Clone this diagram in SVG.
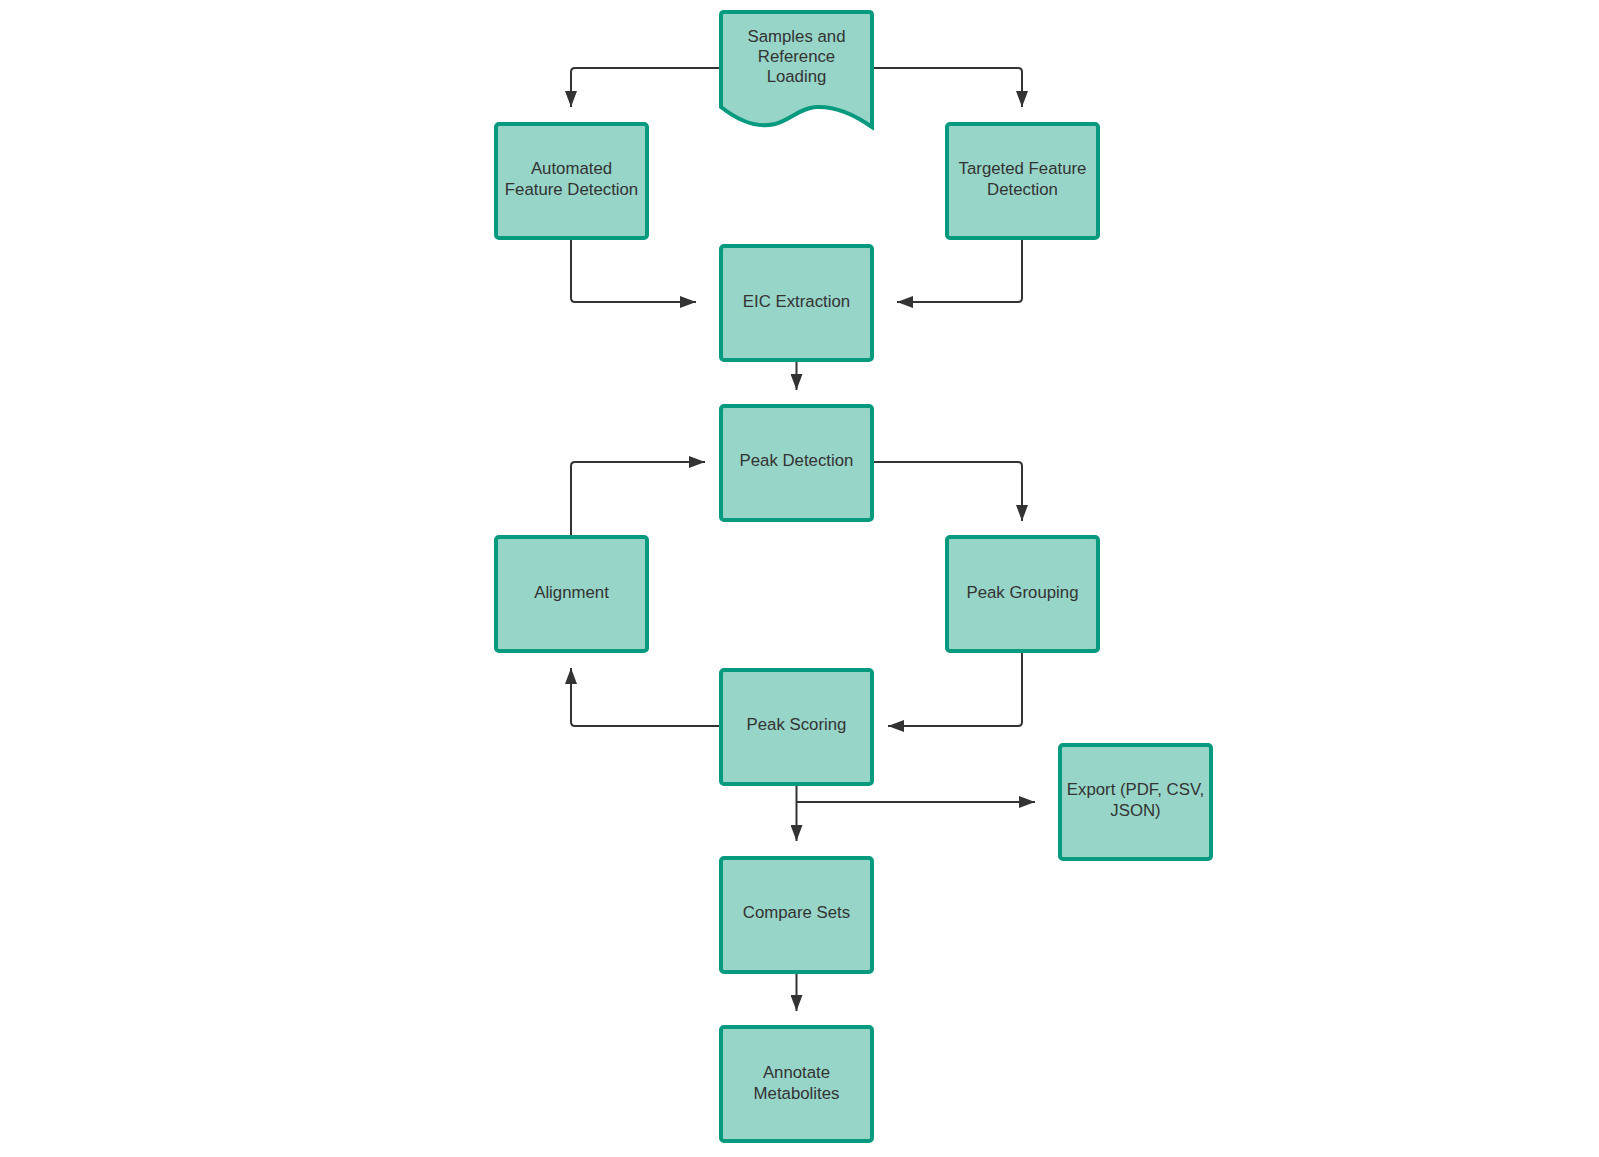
<svg xmlns="http://www.w3.org/2000/svg" width="1599" height="1157" viewBox="0 0 1599 1157">
<style>
.box{fill:#97d5c8;stroke:#079a7f;stroke-width:4;}
.lbl{font-family:"Liberation Sans",Arial,sans-serif;font-size:16.8px;fill:#333;text-anchor:middle;dominant-baseline:central;}
.edge{fill:none;stroke:#333;stroke-width:2;stroke-linejoin:round;}
</style>
<defs>
<marker id="arr" markerUnits="userSpaceOnUse" markerWidth="16" markerHeight="12" refX="16" refY="6" orient="auto">
<path d="M0,0 L16,6 L0,12 z" fill="#333"/>
</marker>
</defs>
<rect width="1599" height="1157" fill="#fff"/>
<g id="connectors">
<path class="edge" d="M721,68 L575,68 Q571,68 571,72 L571,107" marker-end="url(#arr)"/>
<path class="edge" d="M872,68 L1018,68 Q1022,68 1022,72 L1022,107" marker-end="url(#arr)"/>
<path class="edge" d="M571,238 L571,298 Q571,302 575,302 L696,302" marker-end="url(#arr)"/>
<path class="edge" d="M1022,238 L1022,298 Q1022,302 1018,302 L897,302" marker-end="url(#arr)"/>
<path class="edge" d="M796.5,360 L796.5,390" marker-end="url(#arr)"/>
<path class="edge" d="M571,537 L571,466 Q571,462 575,462 L705,462" marker-end="url(#arr)"/>
<path class="edge" d="M872,462 L1018,462 Q1022,462 1022,466 L1022,521" marker-end="url(#arr)"/>
<path class="edge" d="M1022,651 L1022,722 Q1022,726 1018,726 L888,726" marker-end="url(#arr)"/>
<path class="edge" d="M721,726 L575,726 Q571,726 571,722 L571,668" marker-end="url(#arr)"/>
<path class="edge" d="M796.5,784 L796.5,841" marker-end="url(#arr)"/>
<path class="edge" d="M796.5,802 L1035,802" marker-end="url(#arr)"/>
<path class="edge" d="M796.5,972 L796.5,1011" marker-end="url(#arr)"/>
</g>
<g id="n-samples">
<path class="box" d="M724,12 L869,12 Q872,12 872,15 L872,127 C855,115 835,106 816,107 C800,108 790,120 775,124 C758,128 740,122 721,107 L721,15 Q721,12 724,12 z"/>
<text class="lbl" x="796.5" y="36">Samples and</text>
<text class="lbl" x="796.5" y="56">Reference</text>
<text class="lbl" x="796.5" y="76">Loading</text>
</g>
<g id="n-automated">
<rect class="box" x="496" y="124" width="151" height="114" rx="3"/>
<text class="lbl" x="571.5" y="168">Automated</text>
<text class="lbl" x="571.5" y="189">Feature Detection</text>
</g>
<g id="n-targeted">
<rect class="box" x="947" y="124" width="151" height="114" rx="3"/>
<text class="lbl" x="1022.5" y="168">Targeted Feature</text>
<text class="lbl" x="1022.5" y="189">Detection</text>
</g>
<g id="n-eic">
<rect class="box" x="721" y="246" width="151" height="114" rx="3"/>
<text class="lbl" x="796.5" y="301">EIC Extraction</text>
</g>
<g id="n-peakdet">
<rect class="box" x="721" y="406" width="151" height="114" rx="3"/>
<text class="lbl" x="796.5" y="460">Peak Detection</text>
</g>
<g id="n-alignment">
<rect class="box" x="496" y="537" width="151" height="114" rx="3"/>
<text class="lbl" x="571.5" y="592">Alignment</text>
</g>
<g id="n-grouping">
<rect class="box" x="947" y="537" width="151" height="114" rx="3"/>
<text class="lbl" x="1022.5" y="592">Peak Grouping</text>
</g>
<g id="n-scoring">
<rect class="box" x="721" y="670" width="151" height="114" rx="3"/>
<text class="lbl" x="796.5" y="724">Peak Scoring</text>
</g>
<g id="n-export">
<rect class="box" x="1060" y="745" width="151" height="114" rx="3"/>
<text class="lbl" x="1135.5" y="789">Export (PDF, CSV,</text>
<text class="lbl" x="1135.5" y="810">JSON)</text>
</g>
<g id="n-compare">
<rect class="box" x="721" y="858" width="151" height="114" rx="3"/>
<text class="lbl" x="796.5" y="912">Compare Sets</text>
</g>
<g id="n-annotate">
<rect class="box" x="721" y="1027" width="151" height="114" rx="3"/>
<text class="lbl" x="796.5" y="1072">Annotate</text>
<text class="lbl" x="796.5" y="1093">Metabolites</text>
</g>
</svg>
